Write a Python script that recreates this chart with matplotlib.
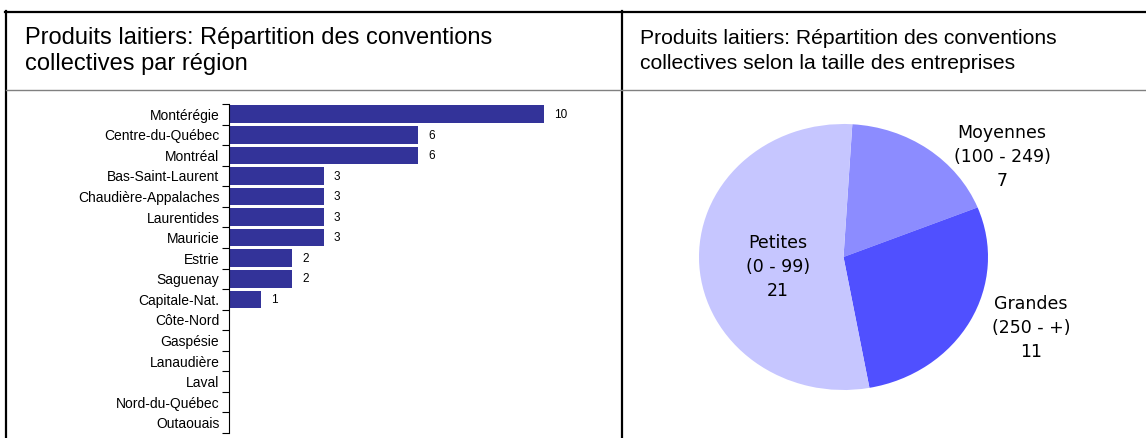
import matplotlib
matplotlib.use("Agg")
import matplotlib.pyplot as plt
from matplotlib.lines import Line2D

# ---- data ----
regions = ["Montérégie", "Centre-du-Québec", "Montréal", "Bas-Saint-Laurent",
           "Chaudière-Appalaches", "Laurentides", "Mauricie", "Estrie",
           "Saguenay", "Capitale-Nat.", "Côte-Nord", "Gaspésie",
           "Lanaudière", "Laval", "Nord-du-Québec", "Outaouais"]
region_counts = [10, 6, 6, 3, 3, 3, 3, 2, 2, 1, 0, 0, 0, 0, 0, 0]

size_labels = ["Moyennes\n(100 - 249)", "Grandes\n(250 - +)", "Petites\n(0 - 99)"]
size_counts = [7, 11, 21]
size_colors = ["#8C8CFF", "#5050FF", "#C6C6FF"]

title_left = "Produits laitiers: Répartition des conventions\ncollectives par région"
title_right = "Produits laitiers: Répartition des conventions\ncollectives selon la taille des entreprises"

W, H = 1146, 438
fig = plt.figure(figsize=(W / 100, H / 100), dpi=100)

def fx(px):
    return px / W

def fy(py):
    return 1 - py / H

# ---- frame lines ----
fig.add_artist(Line2D([fx(5), 1], [fy(11.5), fy(11.5)], color="black", lw=1.6))
fig.add_artist(Line2D([fx(6), fx(6)], [fy(11), 0], color="black", lw=1.6))
fig.add_artist(Line2D([fx(622), fx(622)], [fy(11), 0], color="black", lw=1.6))
fig.add_artist(Line2D([fx(6), 1], [fy(90), fy(90)], color="#808080", lw=1.0))

# ---- titles ----
fig.text(fx(25), fy(51), title_left, fontsize=17, family="Liberation Sans",
         ha="left", va="center", linespacing=1.25)
fig.text(fx(640), fy(51), title_right, fontsize=15.2, family="Liberation Sans",
         ha="left", va="center", linespacing=1.45)

# ---- bar chart ----
ax_left_px, ax_right_px = 229, 600
ax_top_px, ax_bot_px = 104, 433
px_per_unit = 31.5
axb = fig.add_axes([fx(ax_left_px), fy(ax_bot_px),
                    fx(ax_right_px - ax_left_px), (ax_bot_px - ax_top_px) / H])
n = len(regions)
ypos = list(range(n))
axb.barh(ypos, region_counts, height=0.86, color="#333399")
axb.set_ylim(n - 0.5, -0.5)
axb.set_xlim(0, (ax_right_px - ax_left_px) / px_per_unit)
for s in ["top", "right", "bottom"]:
    axb.spines[s].set_visible(False)
axb.spines["left"].set_color("black")
axb.spines["left"].set_linewidth(0.8)
axb.set_xticks([])
axb.set_yticks(ypos)
axb.set_yticklabels(regions, fontsize=10, family="Liberation Sans")
axb.tick_params(axis="y", which="major", length=0, pad=7)
axb.set_yticks([i - 0.5 for i in range(n + 1)], minor=True)
axb.tick_params(axis="y", which="minor", length=5, width=0.8, color="black")
for y, v in zip(ypos, region_counts):
    if v > 0:
        axb.annotate(str(v), (v, y), xytext=(7.5, -0.5), textcoords="offset points",
                     ha="left", va="center", fontsize=8.5, family="Liberation Sans")

# ---- pie chart ----
rx, ry = 144.5, 133.0
cx, cy = 843.5, 257.0
lim = 1.25
axp = fig.add_axes([fx(cx - lim * rx), fy(cy + lim * ry), 2 * lim * rx / W, 2 * lim * ry / H])
axp.pie(size_counts, colors=size_colors, startangle=86.5, counterclock=False,
        wedgeprops=dict(linewidth=0))
axp.set_aspect("auto")
axp.set_xlim(-lim, lim)
axp.set_ylim(-lim, lim)
axp.axis("off")

label_pos = [(1002, 157), (1031, 328), (778, 267)]
for (px, py), lab, v in zip(label_pos, size_labels, size_counts):
    axp.text((px - cx) / rx, (cy - py) / ry, f"{lab}\n{v}", ha="center", va="center",
             fontsize=12.5, family="DejaVu Sans", linespacing=1.4)

fig.savefig("out.png", dpi=100)
